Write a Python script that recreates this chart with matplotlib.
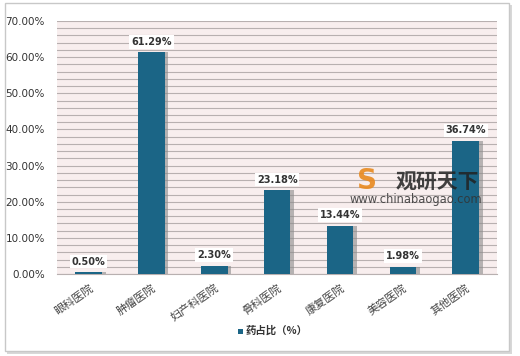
import matplotlib.pyplot as plt
from matplotlib.patches import Rectangle
import numpy as np

plt.rcParams['font.family'] = ['Noto Sans CJK SC', 'DejaVu Sans']

# 数据
categorias = ["眼科医院", "肿瘤医院", "妇产科医院", "骨科医院", "康复医院", "美容医院", "其他医院"]
valores = [0.50, 61.29, 2.30, 23.18, 13.44, 1.98, 36.74]
rotulos = ["0.50%", "61.29%", "2.30%", "23.18%", "13.44%", "1.98%", "36.74%"]
yticks = [0, 10, 20, 30, 40, 50, 60, 70]

COR_BARRA = "#1b6586"

fig = plt.figure(figsize=(5.2, 3.56), dpi=100)
fig.patch.set_facecolor("white")

# moldura externa com sombra
fig.add_artist(Rectangle((7 / 520, 1 - 354 / 356), 505 / 520, 349 / 356,
                         transform=fig.transFigure, facecolor="#d8d8d8",
                         edgecolor="none", zorder=-2))
fig.add_artist(Rectangle((5 / 520, 1 - 351 / 356), 504 / 520, 348 / 356,
                         transform=fig.transFigure, facecolor="white",
                         edgecolor="#c8c8c8", linewidth=1, zorder=-1))

ax = fig.add_axes([0.110, 0.230, 0.846, 0.711])
ax.set_facecolor("#f8eeee")
x = np.arange(len(categorias))

# sombra das barras
ax.bar(x + 0.06, valores, width=0.42, color="#8a8a8a", alpha=0.6, zorder=2)
ax.bar(x, valores, width=0.42, color=COR_BARRA, zorder=3)

for xi, v, r in zip(x, valores, rotulos):
    ax.text(xi, v + 1.6, r, ha="center", va="bottom", fontsize=7, fontweight="bold",
            color="#333333", family="DejaVu Sans", zorder=5,
            bbox=dict(boxstyle="square,pad=0.2", facecolor="white", edgecolor="none"))

ax.set_xlim(-0.5, len(categorias) - 0.5)
ax.set_ylim(0, 70)
ax.set_yticks(yticks)
ax.set_yticklabels([f"{t:.2f}%" for t in yticks], fontsize=7.5, color="#333333",
                   family="DejaVu Sans")
ax.set_yticks(np.arange(0, 71, 2), minor=True)
ax.yaxis.grid(True, which="both", color="#b8b0b0", linewidth=0.8, zorder=1)
ax.set_axisbelow(True)
ax.tick_params(axis="y", which="both", length=0, pad=9)
ax.set_xticks(x)
ax.set_xticklabels(categorias, rotation=35, ha="right", rotation_mode="anchor",
                   fontsize=8, color="#444444")
ax.tick_params(axis="x", length=0, pad=6)
for lado in ["top", "right", "left"]:
    ax.spines[lado].set_visible(False)
ax.spines["bottom"].set_color("#b8b0b0")

# legenda
fig.add_artist(Rectangle((238 / 520, 1 - 334 / 356), 5 / 520, 5 / 356,
                         transform=fig.transFigure, facecolor=COR_BARRA,
                         edgecolor="none"))
fig.text(246 / 520, 1 - 331 / 356, "药占比（%）", fontsize=7.5, fontweight="bold",
         color="#333333", va="center", ha="left")

# marca d'água
fig.text(437 / 520, 1 - 182 / 356, "观研天下", fontsize=15, fontweight="bold",
         color="#222222", ha="center", va="center", alpha=0.85, zorder=10)
fig.text(416 / 520, 1 - 200 / 356, "www.chinabaogao.com", fontsize=8.3, color="#333333",
         ha="center", va="center", alpha=0.85, zorder=10, family="DejaVu Sans")
fig.text(367 / 520, 1 - 181 / 356, "S", fontsize=20, fontweight="bold", color="#e8891e",
         ha="center", va="center", alpha=0.9, zorder=10, family="DejaVu Sans")

fig.savefig("out.png", dpi=100)
